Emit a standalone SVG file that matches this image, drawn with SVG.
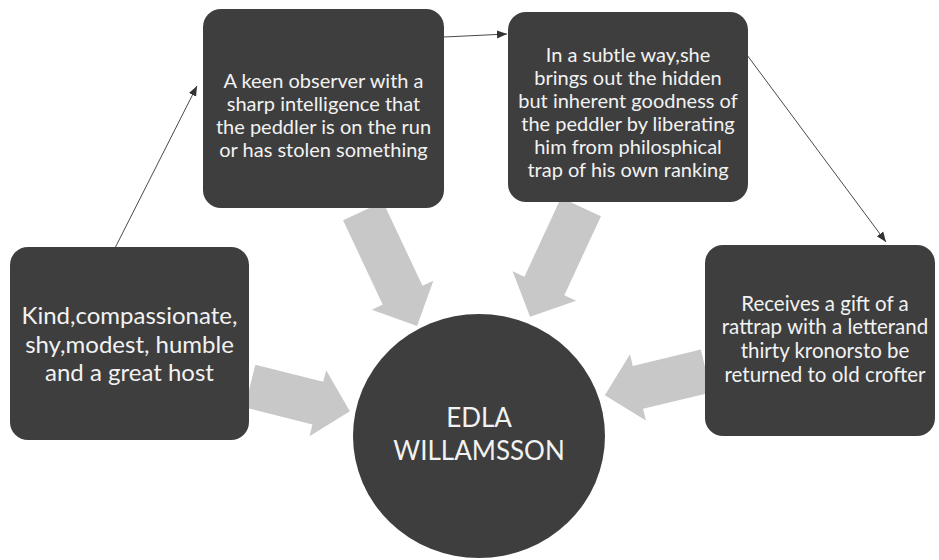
<svg xmlns="http://www.w3.org/2000/svg" width="939" height="560" viewBox="0 0 939 560">
<style>
.box{fill:#3e3e3e;}
.t{fill:#f2f2f2;font-family:Lato,"Open Sans",sans-serif;text-anchor:middle;}
.s{font-size:20px;}
.s4{font-size:20.5px;}
.big{font-size:24px;}
.c{font-size:26px;}
.block{fill:#c8c8c8;}
.ln{stroke:#4a4a4a;stroke-width:1;fill:none;marker-end:url(#ah);}
</style>
<defs>
<marker id="ah" viewBox="0 0 10 10" refX="10" refY="5" markerWidth="10" markerHeight="10" markerUnits="userSpaceOnUse" orient="auto">
<path d="M0,1 L10,5 L0,9 Z" fill="#333"/>
</marker>
</defs>
<rect width="939" height="560" fill="#ffffff"/>
<g id="block-arrows">
<polygon class="block" transform="translate(363,211) rotate(64.8)" points="0,-22 93,-22 93,-34 127,0 93,34 93,22 0,22"/>
<polygon class="block" transform="translate(581,207) rotate(114.9)" points="0,-22 87,-22 87,-35 121,0 87,35 87,22 0,22"/>
<polygon class="block" transform="translate(250,386) rotate(14.2)" points="0,-22 70,-22 70,-34 103,0 70,34 70,22 0,22"/>
<polygon class="block" transform="translate(706,371) rotate(166.5)" points="0,-22 70,-22 70,-34 104,0 70,34 70,22 0,22"/>
</g>
<g id="connectors">
<line class="ln" x1="115" y1="248" x2="197" y2="86"/>
<line class="ln" x1="444" y1="37" x2="507" y2="34"/>
<line class="ln" x1="747" y1="55" x2="886" y2="242"/>
</g>
<g id="n1">
<rect class="box" x="10" y="247" width="239" height="193" rx="18"/>
<text class="t big" x="129.5" y="324">Kind,compassionate,</text>
<text class="t big" x="129.5" y="353">shy,modest, humble</text>
<text class="t big" x="129.5" y="381">and a great host</text>
</g>
<g id="n2">
<rect class="box" x="203" y="9" width="241" height="199" rx="18"/>
<text class="t s" x="323.5" y="88">A keen observer with a</text>
<text class="t s" x="323.5" y="111">sharp intelligence that</text>
<text class="t s" x="323.5" y="134">the peddler is on the run</text>
<text class="t s" x="323.5" y="157">or has stolen something</text>
</g>
<g id="n3">
<rect class="box" x="508" y="12" width="240" height="190" rx="18"/>
<text class="t s" x="628" y="62">In a subtle way,she</text>
<text class="t s" x="628" y="85">brings out the hidden</text>
<text class="t s" x="628" y="108">but inherent goodness of</text>
<text class="t s" x="628" y="131">the peddler by liberating</text>
<text class="t s" x="628" y="154">him from philosphical</text>
<text class="t s" x="628" y="177">trap of his own ranking</text>
</g>
<g id="n4">
<rect class="box" x="705" y="245" width="230" height="191" rx="18"/>
<text class="t s4" x="825" y="311">Receives a gift of a</text>
<text class="t s4" x="825" y="334">rattrap with a letterand</text>
<text class="t s4" x="825" y="358">thirty kronorsto be</text>
<text class="t s4" x="825" y="382">returned to old crofter</text>
</g>
<g id="center">
<ellipse class="box" cx="479" cy="436" rx="126" ry="122"/>
<text class="t c" x="479" y="427">EDLA</text>
<text class="t c" x="479" y="460">WILLAMSSON</text>
</g>
</svg>
